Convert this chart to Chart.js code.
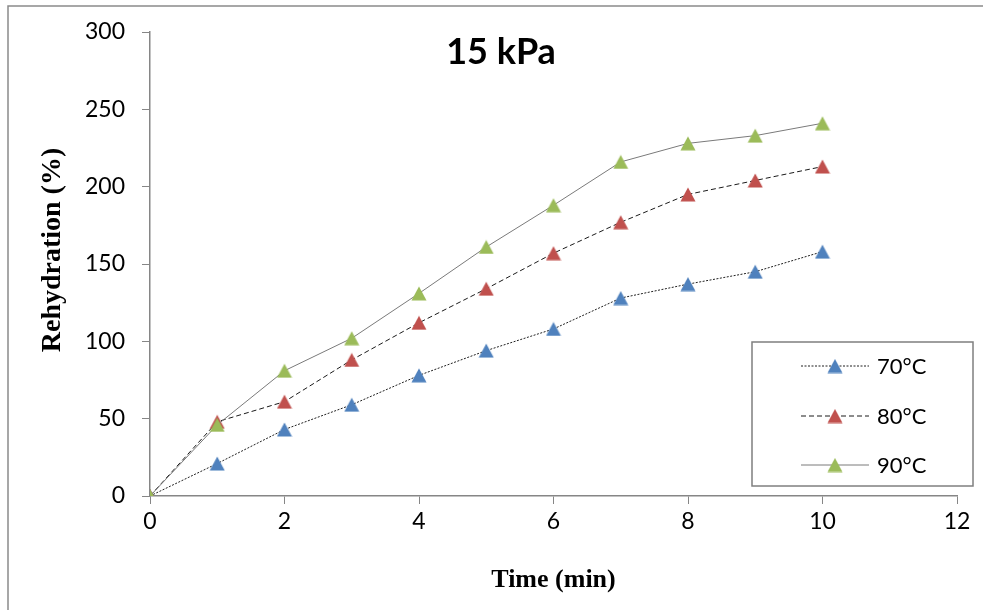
<!DOCTYPE html>
<html>
<head>
<meta charset="utf-8">
<script src="https://cdn.jsdelivr.net/npm/chart.js@4/dist/chart.umd.min.js"></script>
<style>
  html, body { margin: 0; padding: 0; background: #fff; }
  #wrap { width: 983px; height: 610px; }
</style>
</head>
<body>
<div id="wrap"><canvas id="c" width="983" height="610"></canvas></div>
<script>
// Rehydration over time at 15 kPa for three drying temperatures
const times = [0, 1, 2, 3, 4, 5, 6, 7, 8, 9, 10];
const seriesNames = ['70°C', '80°C', '90°C'];
const rehyd70 = [0, 21, 43, 59, 78, 94, 108, 128, 137, 145, 158];
const rehyd80 = [0, 48, 61, 88, 112, 134, 157, 177, 195, 204, 213];
const rehyd90 = [0, 46, 81, 102, 131, 161, 188, 216, 228, 233, 241];
const xTicks = [0, 2, 4, 6, 8, 10, 12];
const yTicks = [0, 50, 100, 150, 200, 250, 300];
const chartTitle = '15 kPa';
const xTitle = 'Time (min)';
const yTitle = 'Rehydration (%)';

const AXIS_GREY = '#868686';
const SANS = 'Lato, "Open Sans", sans-serif';
const SERIF = '"Liberation Serif", "DejaVu Serif", serif';

// Triangle marker as a small bitmap so its bounding box is centred on the point
function triangleMarker(color) {
  const w = 16, h = 15;
  const cv = document.createElement('canvas');
  cv.width = w; cv.height = h;
  const c = cv.getContext('2d');
  c.beginPath();
  c.moveTo(w / 2, 0.5);
  c.lineTo(w - 0.5, h - 0.5);
  c.lineTo(0.5, h - 0.5);
  c.closePath();
  c.fillStyle = color;
  c.fill();
  return cv;
}

function toPoints(ys) {
  return times.map((t, i) => ({ x: t, y: ys[i] }));
}

function makeSeries(label, ys, color, lineColor, dash, order) {
  return {
    label: label,
    data: toPoints(ys),
    borderColor: lineColor,
    borderWidth: 1,
    borderDash: dash,
    pointStyle: triangleMarker(color),
    pointRadius: 8,
    pointHoverRadius: 8,
    pointBackgroundColor: color,
    fill: false,
    tension: 0,
    order: order
  };
}

const datasets = [
  makeSeries(seriesNames[0], rehyd70, '#4F81BD', '#1f1f1f', [2, 1.5], 2),
  makeSeries(seriesNames[1], rehyd80, '#C0504D', '#1a1a1a', [5, 3], 1),
  makeSeries(seriesNames[2], rehyd90, '#9BBB59', '#7a7a7a', [], 0)
];

// Frame, heading, vertical axis title and the boxed key inside the plot
const decorations = {
  id: 'decorations',
  afterDraw(chart) {
    const ctx = chart.ctx;
    ctx.save();

    // outer frame (top and left edges visible)
    ctx.strokeStyle = '#8a8a8a';
    ctx.lineWidth = 1.5;
    ctx.beginPath();
    ctx.moveTo(8, 620);
    ctx.lineTo(8, 6);
    ctx.lineTo(990, 6);
    ctx.stroke();

    // heading
    ctx.fillStyle = '#000';
    ctx.font = 'bold 36px ' + SANS;
    ctx.textAlign = 'center';
    ctx.textBaseline = 'middle';
    ctx.fillText(chartTitle, 501, 52);

    // vertical axis title
    ctx.save();
    ctx.translate(53, 250);
    ctx.rotate(-Math.PI / 2);
    ctx.font = 'bold 28px ' + SERIF;
    ctx.fillText(yTitle, 0, 0);
    ctx.restore();

    // key box
    const box = { left: 752, top: 342, right: 973, bottom: 486 };
    ctx.fillStyle = '#fff';
    ctx.fillRect(box.left, box.top, box.right - box.left, box.bottom - box.top);
    ctx.strokeStyle = '#7f7f7f';
    ctx.lineWidth = 1.5;
    ctx.strokeRect(box.left, box.top, box.right - box.left, box.bottom - box.top);

    const rows = [366, 416, 465];
    chart.data.datasets.forEach((ds, i) => {
      const y = rows[i];
      ctx.strokeStyle = ds.borderColor;
      ctx.lineWidth = ds.borderWidth;
      ctx.setLineDash(ds.borderDash || []);
      ctx.beginPath();
      ctx.moveTo(801, y);
      ctx.lineTo(869, y);
      ctx.stroke();
      ctx.setLineDash([]);
      const img = ds.pointStyle;
      ctx.drawImage(img, 835 - img.width / 2, y - img.height / 2);
      ctx.fillStyle = '#000';
      ctx.font = '22px ' + SANS;
      ctx.textAlign = 'left';
      ctx.textBaseline = 'middle';
      ctx.fillText(ds.label, 877, y + 1);
    });

    ctx.restore();
  }
};

new Chart(document.getElementById('c'), {
  type: 'line',
  data: { datasets: datasets },
  plugins: [decorations],
  options: {
    responsive: false,
    animation: false,
    devicePixelRatio: 1,
    layout: { padding: { top: 32, right: 26, left: 0, bottom: 0 } },
    plugins: {
      legend: { display: false },
      title: { display: false },
      tooltip: { enabled: false }
    },
    scales: {
      x: {
        type: 'linear',
        min: 0,
        max: 12,
        afterBuildTicks: (s) => { s.ticks = xTicks.map(v => ({ value: v })); },
        afterFit: (s) => { s.height = 114; },
        grid: { drawOnChartArea: false, drawTicks: true, tickLength: 8, color: AXIS_GREY, lineWidth: 1 },
        border: { color: AXIS_GREY, width: 1.5 },
        ticks: { color: '#000', font: { family: SANS, size: 23 }, padding: 4, maxRotation: 0 },
        title: {
          display: true,
          text: xTitle,
          color: '#000',
          font: { family: SERIF, size: 26, weight: 'bold' },
          padding: { top: 0, bottom: 14 }
        }
      },
      y: {
        type: 'linear',
        min: 0,
        max: 300,
        afterBuildTicks: (s) => { s.ticks = yTicks.map(v => ({ value: v })); },
        afterFit: (s) => { s.width = 150; },
        grid: { drawOnChartArea: false, drawTicks: true, tickLength: 8, color: AXIS_GREY, lineWidth: 1 },
        border: { color: AXIS_GREY, width: 1.5 },
        ticks: { color: '#000', font: { family: SANS, size: 23 }, padding: 17 },
        title: { display: false }
      }
    }
  }
});
</script>
</body>
</html>
